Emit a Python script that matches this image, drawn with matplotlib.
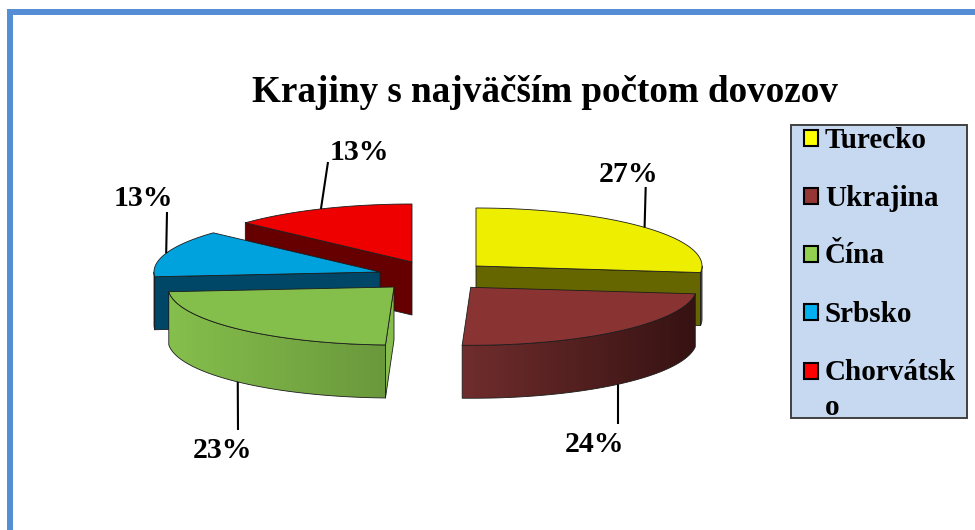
import numpy as np
import matplotlib
matplotlib.use("Agg")
import matplotlib.pyplot as plt
from matplotlib.patches import Polygon, Rectangle
from matplotlib.colors import to_rgb

# ---- data ----
title = "Krajiny s najväčším počtom dovozov"
countries = ["Turecko", "Ukrajina", "Čína", "Srbsko", "Chorvátsk\no"]
shares = [26.8, 23.8, 23.1, 13.1, 13.2]

# ---- styles ----
top_colors = ["#eeee00", "#8a3333", "#84bf4b", "#00a2de", "#ee0000"]
cut_colors = ["#666600", "#5a2222", "#86bd4c", "#004767", "#660000"]
wall_left = ["#666600", "#702d2d", "#85bf4c", "#004767", "#660000"]
wall_right = ["#666600", "#361212", "#6a983c", "#004767", "#660000"]
swatch_colors = ["#ffff00", "#953735", "#92d050", "#00b0f0", "#ff0000"]
centers = [(476, 266), (470.7, 287.3), (394, 287), (380, 272), (412, 262)]
RX, RY, DEPTH = 226, 58, 53
draw_order = [4, 0, 3, 2, 1]
FONT = "Liberation Serif"

fig = plt.figure(figsize=(9.75, 5.3), dpi=100, facecolor="white")
ax = fig.add_axes([0, 0, 1, 1])
ax.set_xlim(0, 975)
ax.set_ylim(530, 0)
ax.axis("off")

# frame of the slide
ax.add_patch(Rectangle((7, 9), 968, 6, fc="#558ed5", ec="none", zorder=1))
ax.add_patch(Rectangle((7, 9), 6, 521, fc="#558ed5", ec="none", zorder=1))


def arc(cx, cy, a0, a1, n=120):
    t = np.radians(np.linspace(a0, a1, n))
    return np.column_stack([cx + RX * np.sin(t), cy - RY * np.cos(t)])


def point(cx, cy, a):
    return arc(cx, cy, a, a, 1)[0]


ends = np.cumsum(shares) / np.sum(shares) * 360
starts = np.concatenate([[0], ends[:-1]])
drop = np.array([0, DEPTH])
edge = dict(ec="#1c1c1c", lw=0.6, joinstyle="round")

z = 3
for i in draw_order:
    cx, cy = centers[i]
    a0, a1 = starts[i], ends[i]
    apex = np.array([cx, cy])
    # outer wall: only the part of the rim that faces the viewer
    lo, hi = max(a0, 90), min(a1, 270)
    if hi > lo:
        rim = arc(cx, cy, lo, hi)
        poly = np.vstack([rim, (rim + drop)[::-1]])
        wall = Polygon(poly, closed=True, fc="none", ec="none", zorder=z)
        ax.add_patch(wall)
        ramp = np.linspace(to_rgb(wall_left[i]), to_rgb(wall_right[i]), 256)[None, :, :]
        im = ax.imshow(ramp, extent=(poly[:, 0].min(), poly[:, 0].max(), poly[:, 1].max(), poly[:, 1].min()),
                       aspect="auto", zorder=z, interpolation="bilinear")
        im.set_clip_path(wall)
        ax.add_patch(Polygon(poly, closed=True, fc="none", zorder=z + 0.1, **edge))
    # flat faces along the cuts, where they turn to the viewer
    for a, visible in ((a0, np.sin(np.radians(a0)) < -1e-6), (a1, np.sin(np.radians(a1)) > 1e-6)):
        if visible:
            p = point(cx, cy, a)
            ax.add_patch(Polygon([apex, p, p + drop, apex + drop], closed=True,
                                 fc=cut_colors[i], zorder=z + 0.2, **edge))
    # top
    ax.add_patch(Polygon(np.vstack([apex, arc(cx, cy, a0, a1)]), closed=True,
                         fc=top_colors[i], zorder=z + 0.3, **edge))
    z += 1

ax.set_xlim(0, 975)
ax.set_ylim(530, 0)

# leader lines and percentage labels
leader_tip = [(645.7, 187), (618, 424), (238, 430), (167, 212), (328, 162)]
label_pos = [(629, 175), (594, 445), (222, 451), (143, 199), (359, 153)]
for i in range(len(shares)):
    cx, cy = centers[i]
    mid = (starts[i] + ends[i]) / 2
    base = point(cx, cy, mid)
    if np.cos(np.radians(mid)) < 0:
        base = base + drop
    ax.plot([base[0], leader_tip[i][0]], [base[1], leader_tip[i][1]], color="black", lw=1.5,
            solid_capstyle="butt", zorder=12)
    ax.text(*label_pos[i], f"{shares[i]:.0f}%", family=FONT, weight="bold", fontsize=21.5,
            ha="center", va="center", color="black", zorder=13)

ax.text(545, 93, title, family=FONT, weight="bold", fontsize=26.7, ha="center", va="center", color="black", zorder=13)

# legend
ax.add_patch(Rectangle((791, 125), 176, 292.5, fc="#c6d9f1", ec="#404040", lw=1.4, zorder=14))
legend_base = [148, 206, 263, 322, 415]
legend_mid = [138, 196, 254, 312, 371]
for name, col, y, m in zip(countries, swatch_colors, legend_base, legend_mid):
    ax.add_patch(Rectangle((803.5, m - 7.75), 14, 15.5, fc=col, ec="black", lw=1.5, zorder=15))
    ax.text(825, y, name, family=FONT, weight="bold", fontsize=21, ha="left", va="baseline",
            linespacing=1.4, color="black", zorder=15)

fig.savefig("out.png", dpi=100, facecolor="white")
